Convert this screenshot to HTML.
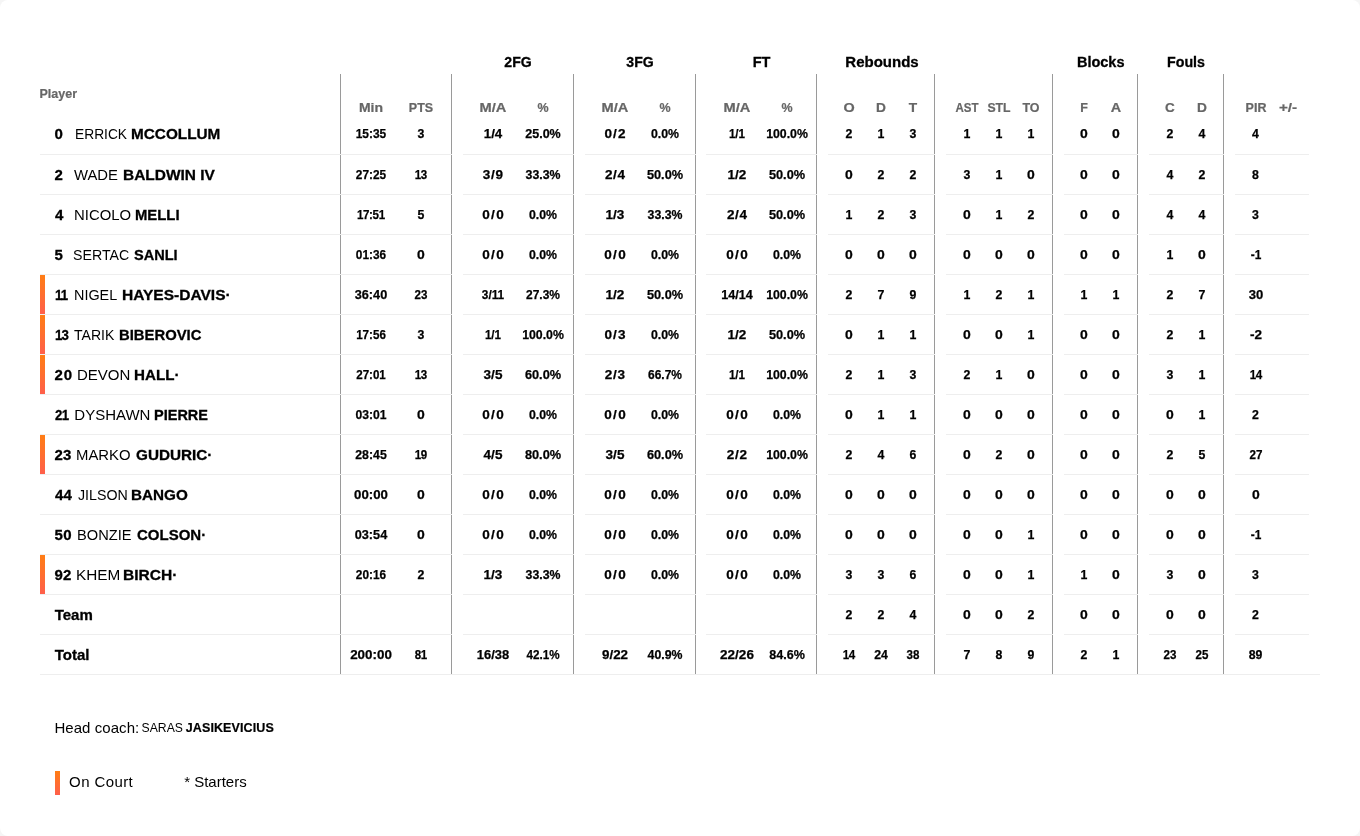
<!DOCTYPE html>
<html lang="en">
<head>
<meta charset="utf-8">
<title>Box score</title>
<style>
html,body{margin:0;padding:0;}
body{width:1360px;height:836px;background:#f5f5f5;overflow:hidden;font-family:"Liberation Sans",sans-serif;color:#000;}
#card{position:absolute;left:0;top:0;width:1360px;height:836px;background:#fff;border-radius:8px;overflow:hidden;will-change:transform;}
.vl{position:absolute;top:74px;width:1px;height:600px;background:#9a9a9a;}
.hb{position:absolute;height:1px;background:#eee;}
.g{position:absolute;top:52px;width:120px;height:20px;line-height:20px;text-align:center;font-weight:bold;font-size:14.5px;color:#000;white-space:nowrap;-webkit-text-stroke:0.3px #000;}
.h{position:absolute;top:99px;width:60px;height:18px;line-height:18px;text-align:center;font-weight:bold;font-size:12px;color:#666;white-space:nowrap;-webkit-text-stroke:0.2px #666;}
.r{position:absolute;left:0;width:1360px;height:39px;}
.c{position:absolute;top:1px;width:60px;height:39px;line-height:39px;text-align:center;font-weight:bold;font-size:12.3px;color:#000;white-space:nowrap;-webkit-text-stroke:0.25px #000;}
.n{position:absolute;top:0;left:54.7px;transform-origin:0 50%;height:39px;line-height:39px;font-weight:bold;font-size:15px;white-space:nowrap;-webkit-text-stroke:0.3px #000;}
.p{position:absolute;top:0;height:39px;line-height:39px;font-size:15px;white-space:nowrap;transform-origin:0 50%;}
.p b{font-weight:bold;-webkit-text-stroke:0.3px #000;}
.oc{position:absolute;left:40px;top:0;width:5px;height:39px;background:linear-gradient(180deg,#ff7d14 0%,#ff5f4b 100%);}
.t{position:absolute;white-space:nowrap;}
</style>
</head>
<body>
<div id="card">
<div class="g" style="left:458.2px;transform:scaleX(0.97)">2FG</div>
<div class="g" style="left:580.0px;transform:scaleX(0.97)">3FG</div>
<div class="g" style="left:701.5px">FT</div>
<div class="g" style="left:821.5px;transform:scaleX(1.035)">Rebounds</div>
<div class="g" style="left:1040.7px">Blocks</div>
<div class="g" style="left:1125.8px;transform:scaleX(0.98)">Fouls</div>
<div class="t" style="left:39.5px;top:85px;height:18px;line-height:18px;font-size:12.5px;font-weight:bold;color:#666;-webkit-text-stroke:0.2px #666;">Player</div>
<div class="h" style="left:341.0px;transform:scaleX(1.165)">Min</div>
<div class="h" style="left:391.0px;transform:scaleX(1.04)">PTS</div>
<div class="h" style="left:463.0px;transform:scaleX(1.22)">M/A</div>
<div class="h" style="left:513.0px;transform:scaleX(1.04)">%</div>
<div class="h" style="left:585.0px;transform:scaleX(1.22)">M/A</div>
<div class="h" style="left:635.0px;transform:scaleX(1.04)">%</div>
<div class="h" style="left:707.0px;transform:scaleX(1.22)">M/A</div>
<div class="h" style="left:757.0px;transform:scaleX(1.04)">%</div>
<div class="h" style="left:819.0px;transform:scaleX(1.2)">O</div>
<div class="h" style="left:851.0px;transform:scaleX(1.145)">D</div>
<div class="h" style="left:883.0px;transform:scaleX(1.145)">T</div>
<div class="h" style="left:937.0px;transform:scaleX(0.96)">AST</div>
<div class="h" style="left:969.0px;transform:scaleX(1.02)">STL</div>
<div class="h" style="left:1001.0px;transform:scaleX(1.04)">TO</div>
<div class="h" style="left:1054.0px;transform:scaleX(1.04)">F</div>
<div class="h" style="left:1086.0px;transform:scaleX(1.2)">A</div>
<div class="h" style="left:1140.0px;transform:scaleX(1.125)">C</div>
<div class="h" style="left:1172.0px;transform:scaleX(1.145)">D</div>
<div class="h" style="left:1225.5px;transform:scaleX(1.04)">PIR</div>
<div class="h" style="left:1258.0px;transform:scaleX(1.27)">+/-</div>
<div class="vl" style="left:340px"></div>
<div class="vl" style="left:451px"></div>
<div class="vl" style="left:573px"></div>
<div class="vl" style="left:695px"></div>
<div class="vl" style="left:816px"></div>
<div class="vl" style="left:934px"></div>
<div class="vl" style="left:1052px"></div>
<div class="vl" style="left:1137px"></div>
<div class="vl" style="left:1223px"></div>
<div class="hb" style="left:40px;top:154px;width:412px"></div>
<div class="hb" style="left:463px;top:154px;width:111px"></div>
<div class="hb" style="left:585px;top:154px;width:111px"></div>
<div class="hb" style="left:706px;top:154px;width:111px"></div>
<div class="hb" style="left:828px;top:154px;width:107px"></div>
<div class="hb" style="left:946px;top:154px;width:107px"></div>
<div class="hb" style="left:1064px;top:154px;width:74px"></div>
<div class="hb" style="left:1149px;top:154px;width:75px"></div>
<div class="hb" style="left:1235px;top:154px;width:74px"></div>
<div class="hb" style="left:40px;top:194px;width:412px"></div>
<div class="hb" style="left:463px;top:194px;width:111px"></div>
<div class="hb" style="left:585px;top:194px;width:111px"></div>
<div class="hb" style="left:706px;top:194px;width:111px"></div>
<div class="hb" style="left:828px;top:194px;width:107px"></div>
<div class="hb" style="left:946px;top:194px;width:107px"></div>
<div class="hb" style="left:1064px;top:194px;width:74px"></div>
<div class="hb" style="left:1149px;top:194px;width:75px"></div>
<div class="hb" style="left:1235px;top:194px;width:74px"></div>
<div class="hb" style="left:40px;top:234px;width:412px"></div>
<div class="hb" style="left:463px;top:234px;width:111px"></div>
<div class="hb" style="left:585px;top:234px;width:111px"></div>
<div class="hb" style="left:706px;top:234px;width:111px"></div>
<div class="hb" style="left:828px;top:234px;width:107px"></div>
<div class="hb" style="left:946px;top:234px;width:107px"></div>
<div class="hb" style="left:1064px;top:234px;width:74px"></div>
<div class="hb" style="left:1149px;top:234px;width:75px"></div>
<div class="hb" style="left:1235px;top:234px;width:74px"></div>
<div class="hb" style="left:40px;top:274px;width:412px"></div>
<div class="hb" style="left:463px;top:274px;width:111px"></div>
<div class="hb" style="left:585px;top:274px;width:111px"></div>
<div class="hb" style="left:706px;top:274px;width:111px"></div>
<div class="hb" style="left:828px;top:274px;width:107px"></div>
<div class="hb" style="left:946px;top:274px;width:107px"></div>
<div class="hb" style="left:1064px;top:274px;width:74px"></div>
<div class="hb" style="left:1149px;top:274px;width:75px"></div>
<div class="hb" style="left:1235px;top:274px;width:74px"></div>
<div class="hb" style="left:40px;top:314px;width:412px"></div>
<div class="hb" style="left:463px;top:314px;width:111px"></div>
<div class="hb" style="left:585px;top:314px;width:111px"></div>
<div class="hb" style="left:706px;top:314px;width:111px"></div>
<div class="hb" style="left:828px;top:314px;width:107px"></div>
<div class="hb" style="left:946px;top:314px;width:107px"></div>
<div class="hb" style="left:1064px;top:314px;width:74px"></div>
<div class="hb" style="left:1149px;top:314px;width:75px"></div>
<div class="hb" style="left:1235px;top:314px;width:74px"></div>
<div class="hb" style="left:40px;top:354px;width:412px"></div>
<div class="hb" style="left:463px;top:354px;width:111px"></div>
<div class="hb" style="left:585px;top:354px;width:111px"></div>
<div class="hb" style="left:706px;top:354px;width:111px"></div>
<div class="hb" style="left:828px;top:354px;width:107px"></div>
<div class="hb" style="left:946px;top:354px;width:107px"></div>
<div class="hb" style="left:1064px;top:354px;width:74px"></div>
<div class="hb" style="left:1149px;top:354px;width:75px"></div>
<div class="hb" style="left:1235px;top:354px;width:74px"></div>
<div class="hb" style="left:40px;top:394px;width:412px"></div>
<div class="hb" style="left:463px;top:394px;width:111px"></div>
<div class="hb" style="left:585px;top:394px;width:111px"></div>
<div class="hb" style="left:706px;top:394px;width:111px"></div>
<div class="hb" style="left:828px;top:394px;width:107px"></div>
<div class="hb" style="left:946px;top:394px;width:107px"></div>
<div class="hb" style="left:1064px;top:394px;width:74px"></div>
<div class="hb" style="left:1149px;top:394px;width:75px"></div>
<div class="hb" style="left:1235px;top:394px;width:74px"></div>
<div class="hb" style="left:40px;top:434px;width:412px"></div>
<div class="hb" style="left:463px;top:434px;width:111px"></div>
<div class="hb" style="left:585px;top:434px;width:111px"></div>
<div class="hb" style="left:706px;top:434px;width:111px"></div>
<div class="hb" style="left:828px;top:434px;width:107px"></div>
<div class="hb" style="left:946px;top:434px;width:107px"></div>
<div class="hb" style="left:1064px;top:434px;width:74px"></div>
<div class="hb" style="left:1149px;top:434px;width:75px"></div>
<div class="hb" style="left:1235px;top:434px;width:74px"></div>
<div class="hb" style="left:40px;top:474px;width:412px"></div>
<div class="hb" style="left:463px;top:474px;width:111px"></div>
<div class="hb" style="left:585px;top:474px;width:111px"></div>
<div class="hb" style="left:706px;top:474px;width:111px"></div>
<div class="hb" style="left:828px;top:474px;width:107px"></div>
<div class="hb" style="left:946px;top:474px;width:107px"></div>
<div class="hb" style="left:1064px;top:474px;width:74px"></div>
<div class="hb" style="left:1149px;top:474px;width:75px"></div>
<div class="hb" style="left:1235px;top:474px;width:74px"></div>
<div class="hb" style="left:40px;top:514px;width:412px"></div>
<div class="hb" style="left:463px;top:514px;width:111px"></div>
<div class="hb" style="left:585px;top:514px;width:111px"></div>
<div class="hb" style="left:706px;top:514px;width:111px"></div>
<div class="hb" style="left:828px;top:514px;width:107px"></div>
<div class="hb" style="left:946px;top:514px;width:107px"></div>
<div class="hb" style="left:1064px;top:514px;width:74px"></div>
<div class="hb" style="left:1149px;top:514px;width:75px"></div>
<div class="hb" style="left:1235px;top:514px;width:74px"></div>
<div class="hb" style="left:40px;top:554px;width:412px"></div>
<div class="hb" style="left:463px;top:554px;width:111px"></div>
<div class="hb" style="left:585px;top:554px;width:111px"></div>
<div class="hb" style="left:706px;top:554px;width:111px"></div>
<div class="hb" style="left:828px;top:554px;width:107px"></div>
<div class="hb" style="left:946px;top:554px;width:107px"></div>
<div class="hb" style="left:1064px;top:554px;width:74px"></div>
<div class="hb" style="left:1149px;top:554px;width:75px"></div>
<div class="hb" style="left:1235px;top:554px;width:74px"></div>
<div class="hb" style="left:40px;top:594px;width:412px"></div>
<div class="hb" style="left:463px;top:594px;width:111px"></div>
<div class="hb" style="left:585px;top:594px;width:111px"></div>
<div class="hb" style="left:706px;top:594px;width:111px"></div>
<div class="hb" style="left:828px;top:594px;width:107px"></div>
<div class="hb" style="left:946px;top:594px;width:107px"></div>
<div class="hb" style="left:1064px;top:594px;width:74px"></div>
<div class="hb" style="left:1149px;top:594px;width:75px"></div>
<div class="hb" style="left:1235px;top:594px;width:74px"></div>
<div class="hb" style="left:40px;top:634px;width:412px"></div>
<div class="hb" style="left:463px;top:634px;width:111px"></div>
<div class="hb" style="left:585px;top:634px;width:111px"></div>
<div class="hb" style="left:706px;top:634px;width:111px"></div>
<div class="hb" style="left:828px;top:634px;width:107px"></div>
<div class="hb" style="left:946px;top:634px;width:107px"></div>
<div class="hb" style="left:1064px;top:634px;width:74px"></div>
<div class="hb" style="left:1149px;top:634px;width:75px"></div>
<div class="hb" style="left:1235px;top:634px;width:74px"></div>
<div class="hb" style="left:40px;top:674px;width:1280px"></div>
<div class="r" style="top:114px"><div class="n" style="left:54.55px;letter-spacing:0.00px">0</div><div class="p" style="left:74.70px;transform:scaleX(0.9180)">ERRICK</div><div class="p l" style="left:130.70px;transform:scaleX(1.0210)"><b>MCCOLLUM</b></div><div class="c" style="left:341.0px;transform:scaleX(0.971)">15:35</div><div class="c" style="left:391.0px">3</div><div class="c" style="left:463.0px;transform:scaleX(1.082)">1/4</div><div class="c" style="left:513.0px;transform:scaleX(1.018)">25.0%</div><div class="c" style="left:585.0px;letter-spacing:1.00px;text-indent:1.00px;transform:scaleX(1.100)">0/2</div><div class="c" style="left:635.0px">0.0%</div><div class="c" style="left:707.0px;transform:scaleX(0.947)">1/1</div><div class="c" style="left:757.0px">100.0%</div><div class="c" style="left:819.0px">2</div><div class="c" style="left:851.0px">1</div><div class="c" style="left:883.0px">3</div><div class="c" style="left:937.0px">1</div><div class="c" style="left:969.0px">1</div><div class="c" style="left:1001.0px">1</div><div class="c" style="left:1054.0px;transform:scaleX(1.133)">0</div><div class="c" style="left:1086.0px;transform:scaleX(1.133)">0</div><div class="c" style="left:1140.0px">2</div><div class="c" style="left:1172.0px">4</div><div class="c" style="left:1225.5px">4</div></div>
<div class="r" style="top:155px"><div class="n" style="left:54.55px;letter-spacing:0.00px">2</div><div class="p" style="left:74.25px;transform:scaleX(0.9898)">WADE</div><div class="p l" style="left:123.10px;transform:scaleX(1.0306)"><b>BALDWIN IV</b></div><div class="c" style="left:341.0px;transform:scaleX(0.963)">27:25</div><div class="c" style="left:391.0px;letter-spacing:-0.50px;text-indent:-0.50px;transform:scaleX(0.940)">13</div><div class="c" style="left:463.0px;letter-spacing:0.68px;text-indent:0.68px;transform:scaleX(1.100)">3/9</div><div class="c" style="left:513.0px">33.3%</div><div class="c" style="left:585.0px;letter-spacing:0.55px;text-indent:0.55px;transform:scaleX(1.100)">2/4</div><div class="c" style="left:635.0px;transform:scaleX(1.038)">50.0%</div><div class="c" style="left:707.0px;transform:scaleX(1.100)">1/2</div><div class="c" style="left:757.0px;transform:scaleX(1.038)">50.0%</div><div class="c" style="left:819.0px;transform:scaleX(1.133)">0</div><div class="c" style="left:851.0px">2</div><div class="c" style="left:883.0px">2</div><div class="c" style="left:937.0px">3</div><div class="c" style="left:969.0px">1</div><div class="c" style="left:1001.0px;transform:scaleX(1.133)">0</div><div class="c" style="left:1054.0px;transform:scaleX(1.133)">0</div><div class="c" style="left:1086.0px;transform:scaleX(1.133)">0</div><div class="c" style="left:1140.0px">4</div><div class="c" style="left:1172.0px">2</div><div class="c" style="left:1225.5px">8</div></div>
<div class="r" style="top:195px"><div class="n" style="left:55.05px;letter-spacing:0.00px">4</div><div class="p" style="left:74.30px;transform:scaleX(0.9921)">NICOLO</div><div class="p l" style="left:134.95px;transform:scaleX(0.9902)"><b>MELLI</b></div><div class="c" style="left:341.0px;letter-spacing:-0.36px;text-indent:-0.36px;transform:scaleX(0.940)">17:51</div><div class="c" style="left:391.0px">5</div><div class="c" style="left:463.0px;letter-spacing:1.32px;text-indent:1.32px;transform:scaleX(1.100)">0/0</div><div class="c" style="left:513.0px">0.0%</div><div class="c" style="left:585.0px;transform:scaleX(1.100)">1/3</div><div class="c" style="left:635.0px">33.3%</div><div class="c" style="left:707.0px;letter-spacing:0.55px;text-indent:0.55px;transform:scaleX(1.100)">2/4</div><div class="c" style="left:757.0px;transform:scaleX(1.038)">50.0%</div><div class="c" style="left:819.0px">1</div><div class="c" style="left:851.0px">2</div><div class="c" style="left:883.0px">3</div><div class="c" style="left:937.0px;transform:scaleX(1.133)">0</div><div class="c" style="left:969.0px">1</div><div class="c" style="left:1001.0px">2</div><div class="c" style="left:1054.0px;transform:scaleX(1.133)">0</div><div class="c" style="left:1086.0px;transform:scaleX(1.133)">0</div><div class="c" style="left:1140.0px">4</div><div class="c" style="left:1172.0px">4</div><div class="c" style="left:1225.5px">3</div></div>
<div class="r" style="top:235px"><div class="n" style="left:54.55px;letter-spacing:0.00px">5</div><div class="p" style="left:73.35px;transform:scaleX(0.9447)">SERTAC</div><div class="p l" style="left:134.20px;transform:scaleX(0.9695)"><b>SANLI</b></div><div class="c" style="left:341.0px;transform:scaleX(0.963)">01:36</div><div class="c" style="left:391.0px;transform:scaleX(1.133)">0</div><div class="c" style="left:463.0px;letter-spacing:1.32px;text-indent:1.32px;transform:scaleX(1.100)">0/0</div><div class="c" style="left:513.0px">0.0%</div><div class="c" style="left:585.0px;letter-spacing:1.32px;text-indent:1.32px;transform:scaleX(1.100)">0/0</div><div class="c" style="left:635.0px">0.0%</div><div class="c" style="left:707.0px;letter-spacing:1.32px;text-indent:1.32px;transform:scaleX(1.100)">0/0</div><div class="c" style="left:757.0px">0.0%</div><div class="c" style="left:819.0px;transform:scaleX(1.133)">0</div><div class="c" style="left:851.0px;transform:scaleX(1.133)">0</div><div class="c" style="left:883.0px;transform:scaleX(1.133)">0</div><div class="c" style="left:937.0px;transform:scaleX(1.133)">0</div><div class="c" style="left:969.0px;transform:scaleX(1.133)">0</div><div class="c" style="left:1001.0px;transform:scaleX(1.133)">0</div><div class="c" style="left:1054.0px;transform:scaleX(1.133)">0</div><div class="c" style="left:1086.0px;transform:scaleX(1.133)">0</div><div class="c" style="left:1140.0px">1</div><div class="c" style="left:1172.0px;transform:scaleX(1.133)">0</div><div class="c" style="left:1225.5px;transform:scaleX(0.964)">-1</div></div>
<div class="r" style="top:275px"><div class="oc"></div><div class="n" style="left:54.55px;letter-spacing:-0.90px;transform:scaleX(0.880)">11</div><div class="p" style="left:74.10px;transform:scaleX(0.9592)">NIGEL</div><div class="p l" style="left:121.70px;transform:scaleX(1.0350)"><b>HAYES-DAVIS&middot;</b></div><div class="c" style="left:341.0px;transform:scaleX(1.034)">36:40</div><div class="c" style="left:391.0px;letter-spacing:-0.06px;text-indent:-0.06px;transform:scaleX(0.940)">23</div><div class="c" style="left:463.0px;transform:scaleX(0.963)">3/11</div><div class="c" style="left:513.0px;transform:scaleX(0.974)">27.3%</div><div class="c" style="left:585.0px;transform:scaleX(1.100)">1/2</div><div class="c" style="left:635.0px;transform:scaleX(1.038)">50.0%</div><div class="c" style="left:707.0px;transform:scaleX(1.023)">14/14</div><div class="c" style="left:757.0px">100.0%</div><div class="c" style="left:819.0px">2</div><div class="c" style="left:851.0px">7</div><div class="c" style="left:883.0px">9</div><div class="c" style="left:937.0px">1</div><div class="c" style="left:969.0px">2</div><div class="c" style="left:1001.0px">1</div><div class="c" style="left:1054.0px">1</div><div class="c" style="left:1086.0px">1</div><div class="c" style="left:1140.0px">2</div><div class="c" style="left:1172.0px">7</div><div class="c" style="left:1225.5px;transform:scaleX(1.062)">30</div></div>
<div class="r" style="top:315px"><div class="oc"></div><div class="n" style="left:54.55px;letter-spacing:-0.90px;transform:scaleX(0.887)">13</div><div class="p" style="left:74.25px;transform:scaleX(0.9362)">TARIK</div><div class="p l" style="left:118.95px;transform:scaleX(0.9890)"><b>BIBEROVIC</b></div><div class="c" style="left:341.0px;transform:scaleX(0.945)">17:56</div><div class="c" style="left:391.0px">3</div><div class="c" style="left:463.0px;transform:scaleX(0.947)">1/1</div><div class="c" style="left:513.0px">100.0%</div><div class="c" style="left:585.0px;letter-spacing:1.00px;text-indent:1.00px;transform:scaleX(1.100)">0/3</div><div class="c" style="left:635.0px">0.0%</div><div class="c" style="left:707.0px;transform:scaleX(1.100)">1/2</div><div class="c" style="left:757.0px;transform:scaleX(1.038)">50.0%</div><div class="c" style="left:819.0px;transform:scaleX(1.133)">0</div><div class="c" style="left:851.0px">1</div><div class="c" style="left:883.0px">1</div><div class="c" style="left:937.0px;transform:scaleX(1.133)">0</div><div class="c" style="left:969.0px;transform:scaleX(1.133)">0</div><div class="c" style="left:1001.0px">1</div><div class="c" style="left:1054.0px;transform:scaleX(1.133)">0</div><div class="c" style="left:1086.0px;transform:scaleX(1.133)">0</div><div class="c" style="left:1140.0px">2</div><div class="c" style="left:1172.0px">1</div><div class="c" style="left:1225.5px;transform:scaleX(1.100)">-2</div></div>
<div class="r" style="top:355px"><div class="oc"></div><div class="n" style="left:54.55px;letter-spacing:0.80px">20</div><div class="p" style="left:76.90px;transform:scaleX(1.0002)">DEVON</div><div class="p l" style="left:133.70px;transform:scaleX(1.0109)"><b>HALL&middot;</b></div><div class="c" style="left:341.0px;transform:scaleX(0.940)">27:01</div><div class="c" style="left:391.0px;letter-spacing:-0.50px;text-indent:-0.50px;transform:scaleX(0.940)">13</div><div class="c" style="left:463.0px;letter-spacing:0.18px;text-indent:0.18px;transform:scaleX(1.100)">3/5</div><div class="c" style="left:513.0px;transform:scaleX(1.038)">60.0%</div><div class="c" style="left:585.0px;letter-spacing:0.68px;text-indent:0.68px;transform:scaleX(1.100)">2/3</div><div class="c" style="left:635.0px;transform:scaleX(0.974)">66.7%</div><div class="c" style="left:707.0px;transform:scaleX(0.947)">1/1</div><div class="c" style="left:757.0px">100.0%</div><div class="c" style="left:819.0px">2</div><div class="c" style="left:851.0px">1</div><div class="c" style="left:883.0px">3</div><div class="c" style="left:937.0px">2</div><div class="c" style="left:969.0px">1</div><div class="c" style="left:1001.0px;transform:scaleX(1.133)">0</div><div class="c" style="left:1054.0px;transform:scaleX(1.133)">0</div><div class="c" style="left:1086.0px;transform:scaleX(1.133)">0</div><div class="c" style="left:1140.0px">3</div><div class="c" style="left:1172.0px">1</div><div class="c" style="left:1225.5px;letter-spacing:-0.50px;text-indent:-0.50px;transform:scaleX(0.940)">14</div></div>
<div class="r" style="top:395px"><div class="n" style="left:54.55px;letter-spacing:-0.66px;transform:scaleX(0.881)">21</div><div class="p" style="left:74.30px;transform:scaleX(1.0000)">DYSHAWN</div><div class="p l" style="left:153.70px;transform:scaleX(0.9672)"><b>PIERRE</b></div><div class="c" style="left:341.0px;transform:scaleX(0.984)">03:01</div><div class="c" style="left:391.0px;transform:scaleX(1.133)">0</div><div class="c" style="left:463.0px;letter-spacing:1.32px;text-indent:1.32px;transform:scaleX(1.100)">0/0</div><div class="c" style="left:513.0px">0.0%</div><div class="c" style="left:585.0px;letter-spacing:1.32px;text-indent:1.32px;transform:scaleX(1.100)">0/0</div><div class="c" style="left:635.0px">0.0%</div><div class="c" style="left:707.0px;letter-spacing:1.32px;text-indent:1.32px;transform:scaleX(1.100)">0/0</div><div class="c" style="left:757.0px">0.0%</div><div class="c" style="left:819.0px;transform:scaleX(1.133)">0</div><div class="c" style="left:851.0px">1</div><div class="c" style="left:883.0px">1</div><div class="c" style="left:937.0px;transform:scaleX(1.133)">0</div><div class="c" style="left:969.0px;transform:scaleX(1.133)">0</div><div class="c" style="left:1001.0px;transform:scaleX(1.133)">0</div><div class="c" style="left:1054.0px;transform:scaleX(1.133)">0</div><div class="c" style="left:1086.0px;transform:scaleX(1.133)">0</div><div class="c" style="left:1140.0px;transform:scaleX(1.133)">0</div><div class="c" style="left:1172.0px">1</div><div class="c" style="left:1225.5px">2</div></div>
<div class="r" style="top:435px"><div class="oc"></div><div class="n" style="left:54.55px;letter-spacing:-0.00px">23</div><div class="p" style="left:76.10px;transform:scaleX(0.9916)">MARKO</div><div class="p l" style="left:135.55px;transform:scaleX(1.0183)"><b>GUDURIC&middot;</b></div><div class="c" style="left:341.0px">28:45</div><div class="c" style="left:391.0px;letter-spacing:-0.50px;text-indent:-0.50px;transform:scaleX(0.940)">19</div><div class="c" style="left:463.0px;letter-spacing:0.05px;text-indent:0.05px;transform:scaleX(1.100)">4/5</div><div class="c" style="left:513.0px;transform:scaleX(1.038)">80.0%</div><div class="c" style="left:585.0px;letter-spacing:0.18px;text-indent:0.18px;transform:scaleX(1.100)">3/5</div><div class="c" style="left:635.0px;transform:scaleX(1.038)">60.0%</div><div class="c" style="left:707.0px;letter-spacing:0.68px;text-indent:0.68px;transform:scaleX(1.100)">2/2</div><div class="c" style="left:757.0px">100.0%</div><div class="c" style="left:819.0px">2</div><div class="c" style="left:851.0px">4</div><div class="c" style="left:883.0px">6</div><div class="c" style="left:937.0px;transform:scaleX(1.133)">0</div><div class="c" style="left:969.0px">2</div><div class="c" style="left:1001.0px;transform:scaleX(1.133)">0</div><div class="c" style="left:1054.0px;transform:scaleX(1.133)">0</div><div class="c" style="left:1086.0px;transform:scaleX(1.133)">0</div><div class="c" style="left:1140.0px">2</div><div class="c" style="left:1172.0px">5</div><div class="c" style="left:1225.5px;transform:scaleX(0.946)">27</div></div>
<div class="r" style="top:475px"><div class="n" style="left:55.05px;letter-spacing:0.00px">44</div><div class="p" style="left:77.80px;transform:scaleX(0.9471)">JILSON</div><div class="p l" style="left:130.70px;transform:scaleX(1.0165)"><b>BANGO</b></div><div class="c" style="left:341.0px;transform:scaleX(1.075)">00:00</div><div class="c" style="left:391.0px;transform:scaleX(1.133)">0</div><div class="c" style="left:463.0px;letter-spacing:1.32px;text-indent:1.32px;transform:scaleX(1.100)">0/0</div><div class="c" style="left:513.0px">0.0%</div><div class="c" style="left:585.0px;letter-spacing:1.32px;text-indent:1.32px;transform:scaleX(1.100)">0/0</div><div class="c" style="left:635.0px">0.0%</div><div class="c" style="left:707.0px;letter-spacing:1.32px;text-indent:1.32px;transform:scaleX(1.100)">0/0</div><div class="c" style="left:757.0px">0.0%</div><div class="c" style="left:819.0px;transform:scaleX(1.133)">0</div><div class="c" style="left:851.0px;transform:scaleX(1.133)">0</div><div class="c" style="left:883.0px;transform:scaleX(1.133)">0</div><div class="c" style="left:937.0px;transform:scaleX(1.133)">0</div><div class="c" style="left:969.0px;transform:scaleX(1.133)">0</div><div class="c" style="left:1001.0px;transform:scaleX(1.133)">0</div><div class="c" style="left:1054.0px;transform:scaleX(1.133)">0</div><div class="c" style="left:1086.0px;transform:scaleX(1.133)">0</div><div class="c" style="left:1140.0px;transform:scaleX(1.133)">0</div><div class="c" style="left:1172.0px;transform:scaleX(1.133)">0</div><div class="c" style="left:1225.5px;transform:scaleX(1.133)">0</div></div>
<div class="r" style="top:515px"><div class="n" style="left:54.55px;letter-spacing:0.40px">50</div><div class="p" style="left:76.90px;transform:scaleX(0.9752)">BONZIE</div><div class="p l" style="left:136.75px;transform:scaleX(1.0001)"><b>COLSON&middot;</b></div><div class="c" style="left:341.0px;transform:scaleX(1.034)">03:54</div><div class="c" style="left:391.0px;transform:scaleX(1.133)">0</div><div class="c" style="left:463.0px;letter-spacing:1.32px;text-indent:1.32px;transform:scaleX(1.100)">0/0</div><div class="c" style="left:513.0px">0.0%</div><div class="c" style="left:585.0px;letter-spacing:1.32px;text-indent:1.32px;transform:scaleX(1.100)">0/0</div><div class="c" style="left:635.0px">0.0%</div><div class="c" style="left:707.0px;letter-spacing:1.32px;text-indent:1.32px;transform:scaleX(1.100)">0/0</div><div class="c" style="left:757.0px">0.0%</div><div class="c" style="left:819.0px;transform:scaleX(1.133)">0</div><div class="c" style="left:851.0px;transform:scaleX(1.133)">0</div><div class="c" style="left:883.0px;transform:scaleX(1.133)">0</div><div class="c" style="left:937.0px;transform:scaleX(1.133)">0</div><div class="c" style="left:969.0px;transform:scaleX(1.133)">0</div><div class="c" style="left:1001.0px">1</div><div class="c" style="left:1054.0px;transform:scaleX(1.133)">0</div><div class="c" style="left:1086.0px;transform:scaleX(1.133)">0</div><div class="c" style="left:1140.0px;transform:scaleX(1.133)">0</div><div class="c" style="left:1172.0px;transform:scaleX(1.133)">0</div><div class="c" style="left:1225.5px;transform:scaleX(0.964)">-1</div></div>
<div class="r" style="top:555px"><div class="oc"></div><div class="n" style="left:54.55px;letter-spacing:-0.00px">92</div><div class="p" style="left:75.70px;transform:scaleX(1.0219)">KHEM</div><div class="p l" style="left:123.10px;transform:scaleX(1.0361)"><b>BIRCH&middot;</b></div><div class="c" style="left:341.0px;transform:scaleX(0.963)">20:16</div><div class="c" style="left:391.0px">2</div><div class="c" style="left:463.0px;transform:scaleX(1.100)">1/3</div><div class="c" style="left:513.0px">33.3%</div><div class="c" style="left:585.0px;letter-spacing:1.32px;text-indent:1.32px;transform:scaleX(1.100)">0/0</div><div class="c" style="left:635.0px">0.0%</div><div class="c" style="left:707.0px;letter-spacing:1.32px;text-indent:1.32px;transform:scaleX(1.100)">0/0</div><div class="c" style="left:757.0px">0.0%</div><div class="c" style="left:819.0px">3</div><div class="c" style="left:851.0px">3</div><div class="c" style="left:883.0px">6</div><div class="c" style="left:937.0px;transform:scaleX(1.133)">0</div><div class="c" style="left:969.0px;transform:scaleX(1.133)">0</div><div class="c" style="left:1001.0px">1</div><div class="c" style="left:1054.0px">1</div><div class="c" style="left:1086.0px;transform:scaleX(1.133)">0</div><div class="c" style="left:1140.0px">3</div><div class="c" style="left:1172.0px;transform:scaleX(1.133)">0</div><div class="c" style="left:1225.5px">3</div></div>
<div class="r" style="top:595px"><div class="n">Team</div><div class="c" style="left:819.0px">2</div><div class="c" style="left:851.0px">2</div><div class="c" style="left:883.0px">4</div><div class="c" style="left:937.0px;transform:scaleX(1.133)">0</div><div class="c" style="left:969.0px;transform:scaleX(1.133)">0</div><div class="c" style="left:1001.0px">2</div><div class="c" style="left:1054.0px;transform:scaleX(1.133)">0</div><div class="c" style="left:1086.0px;transform:scaleX(1.133)">0</div><div class="c" style="left:1140.0px;transform:scaleX(1.133)">0</div><div class="c" style="left:1172.0px;transform:scaleX(1.133)">0</div><div class="c" style="left:1225.5px">2</div></div>
<div class="r" style="top:635px"><div class="n">Total</div><div class="c" style="left:341.0px;transform:scaleX(1.089)">200:00</div><div class="c" style="left:391.0px;letter-spacing:-0.50px;text-indent:-0.50px;transform:scaleX(0.940)">81</div><div class="c" style="left:463.0px;transform:scaleX(1.053)">16/38</div><div class="c" style="left:513.0px;transform:scaleX(0.949)">42.1%</div><div class="c" style="left:585.0px;transform:scaleX(1.088)">9/22</div><div class="c" style="left:635.0px">40.9%</div><div class="c" style="left:707.0px;transform:scaleX(1.100)">22/26</div><div class="c" style="left:757.0px;transform:scaleX(1.021)">84.6%</div><div class="c" style="left:819.0px;letter-spacing:-0.50px;text-indent:-0.50px;transform:scaleX(0.940)">14</div><div class="c" style="left:851.0px">24</div><div class="c" style="left:883.0px;letter-spacing:-0.06px;text-indent:-0.06px;transform:scaleX(0.940)">38</div><div class="c" style="left:937.0px">7</div><div class="c" style="left:969.0px">8</div><div class="c" style="left:1001.0px">9</div><div class="c" style="left:1054.0px">2</div><div class="c" style="left:1086.0px">1</div><div class="c" style="left:1140.0px;letter-spacing:-0.06px;text-indent:-0.06px;transform:scaleX(0.940)">23</div><div class="c" style="left:1172.0px;letter-spacing:-0.06px;text-indent:-0.06px;transform:scaleX(0.940)">25</div><div class="c" style="left:1225.5px">89</div></div>
<div class="t" style="left:54.4px;top:718px;height:20px;line-height:20px;font-size:15px;letter-spacing:0.06px">Head coach:</div>
<div class="t" style="left:141.6px;top:718px;height:20px;line-height:20px;font-size:12.2px;">SARAS</div>
<div class="t" style="left:185.8px;top:718px;height:20px;line-height:20px;font-size:12.5px;font-weight:bold;letter-spacing:0.1px;-webkit-text-stroke:0.2px #000">JASIKEVICIUS</div>
<div style="position:absolute;left:55px;top:771px;width:5px;height:24px;background:linear-gradient(180deg,#ff7d14 0%,#ff5f4b 100%);"></div>
<div class="t" style="left:69.1px;top:772px;height:20px;line-height:20px;font-size:15px;letter-spacing:0.4px">On Court</div>
<div class="t" style="left:184.2px;top:772px;height:20px;line-height:20px;font-size:15px;">* Starters</div>
</div>
</body>
</html>
